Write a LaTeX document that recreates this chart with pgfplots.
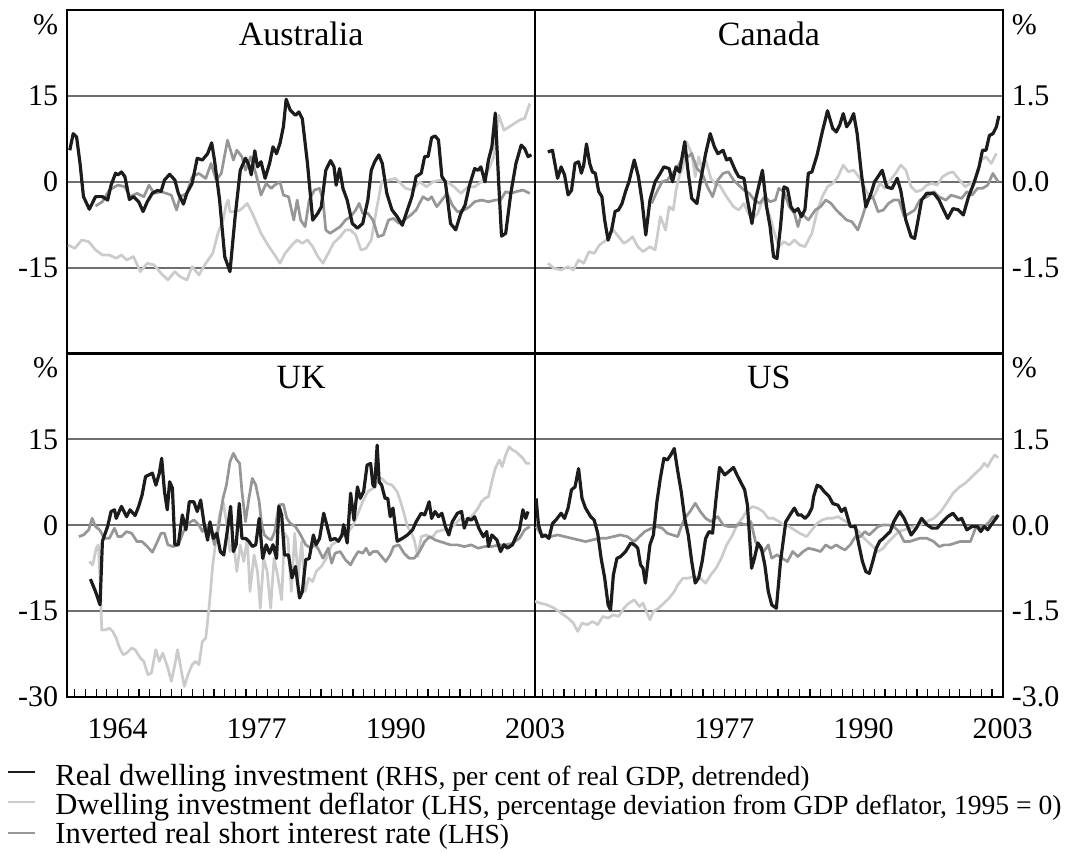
\documentclass[border=0pt]{standalone}
\usepackage{pgfplots}
\pgfplotsset{compat=1.18}
\usepackage{fontspec}
\setmainfont{Liberation Serif}
\definecolor{dk}{RGB}{28,28,28}
\definecolor{md}{RGB}{150,150,150}
\definecolor{lt}{RGB}{203,203,203}
\definecolor{gridc}{RGB}{110,110,110}
\newcommand{\tf}{\fontsize{15}{18}\selectfont}
\newcommand{\ttl}{\fontsize{17}{20}\selectfont}
\pgfplotsset{
  panel/.style={scale only axis, width=233.85pt, height=171.75pt,
    xmin=1959.3, xmax=2003, ymin=-30, ymax=30, clip mode=individual,
    axis line style={line width=1.2pt, black},
    ytick={-15,0,15}, ymajorgrids, grid style={line width=0.9pt, gridc},
    ytick style={draw=none}, tick pos=left,
    tick label style={font=\tf},
    yticklabel style={xshift=-1pt}},
  toppanel/.style={panel, xtick=\empty},
  botpanel/.style={panel, xtick={1960,...,2002}, xticklabels={},
    major tick length=4pt, xtick style={line width=0.6pt, black},
    xticklabel style={anchor=base, yshift=-20.5pt},
    extra x tick style={major tick length=0pt}},
  rightlab/.style={yticklabel pos=right, yticklabels={-1.5,0.0,1.5}, yticklabel style={xshift=2pt}},
  leftlab/.style={yticklabels={-15,0,15}},
  rhs/.style={scale only axis, width=233.85pt, height=171.75pt,
    xmin=1959.3, xmax=2003, ymin=-3, ymax=3, hide axis},
  ltl/.style={lt, line width=1.35pt, line join=round},
  mdl/.style={md, line width=1.35pt, line join=round},
  dkl/.style={dk, line width=1.6pt, line join=round},
}
\begin{document}
\begin{tikzpicture}[font=\tf]
\path[use as bounding box] (0,0) rectangle (537.5pt,-426.5pt);
% ---------------- Australia ----------------
\begin{axis}[toppanel, leftlab, at={(33.65pt,-5pt)}, anchor=north west]
\addplot[ltl] coordinates {(1959.36,-11.05)(1960.01,-11.63)(1960.65,-10.17)(1961.30,-10.47)(1961.94,-11.92)(1962.58,-12.79)(1963.23,-12.79)(1963.87,-13.37)(1964.36,-12.79)(1964.84,-13.66)(1965.48,-13.08)(1966.13,-15.70)(1966.77,-14.24)(1967.41,-14.53)(1968.06,-15.99)(1968.70,-17.15)(1969.35,-15.70)(1969.83,-16.57)(1970.47,-17.15)(1970.96,-14.83)(1971.60,-16.28)(1972.24,-14.24)(1972.89,-12.50)(1973.37,-9.01)(1973.85,-6.69)(1974.17,-3.78)(1974.34,-3.20)(1974.50,-5.23)(1974.98,-5.23)(1975.46,-4.94)(1976.11,-3.78)(1976.59,-5.52)(1977.40,-9.01)(1978.04,-11.05)(1978.68,-12.79)(1979.17,-14.24)(1979.65,-12.50)(1980.29,-11.05)(1980.78,-10.17)(1981.26,-10.76)(1981.74,-10.17)(1982.23,-11.34)(1982.71,-13.08)(1983.19,-14.24)(1983.68,-12.50)(1984.16,-10.76)(1984.80,-9.59)(1985.29,-8.43)(1985.77,-8.43)(1986.25,-9.30)(1986.74,-11.92)(1987.22,-11.63)(1987.70,-10.17)(1988.18,-4.94)(1988.67,0.00)(1989.31,0.29)(1989.95,0.58)(1990.44,-0.29)(1990.92,-1.16)(1991.56,-1.45)(1992.21,0.00)(1992.85,-0.87)(1993.50,0.00)(1994.14,0.29)(1994.78,0.00)(1995.43,-0.87)(1996.07,-2.03)(1996.72,-0.87)(1997.36,-0.87)(1998.00,0.00)(1998.65,2.03)(1999.13,4.36)(1999.61,11.63)(2000.10,9.01)(2000.58,9.59)(2001.06,10.17)(2001.54,10.76)(2002.03,11.05)(2002.51,13.66)};
\addplot[mdl] coordinates {(1961.94,-4.24)(1962.58,-3.49)(1963.23,-1.45)(1964.03,-0.58)(1964.68,-0.87)(1965.16,-2.62)(1965.81,-2.03)(1966.45,-2.62)(1966.93,-0.58)(1967.41,-2.03)(1968.06,-1.74)(1968.54,-2.03)(1969.02,-2.33)(1969.51,-4.94)(1969.83,-2.62)(1970.47,-2.03)(1970.96,0.87)(1971.60,1.45)(1972.24,0.58)(1972.73,3.20)(1973.21,0.29)(1973.69,1.45)(1974.27,7.27)(1974.82,3.78)(1975.14,5.52)(1975.62,4.36)(1975.95,2.03)(1976.43,4.36)(1976.91,1.45)(1977.40,-2.33)(1977.88,-0.29)(1978.36,-1.16)(1978.68,-0.58)(1979.17,0.00)(1979.49,-2.33)(1979.97,-2.62)(1980.46,-6.69)(1980.78,-3.20)(1981.10,-6.69)(1981.52,-7.85)(1981.90,-3.20)(1982.39,-1.45)(1982.87,-1.16)(1983.19,-3.20)(1983.45,-8.43)(1983.84,-9.01)(1984.32,-8.43)(1984.80,-7.85)(1985.29,-6.69)(1985.77,-6.10)(1986.25,-4.94)(1986.57,-3.78)(1986.90,-5.52)(1987.38,-5.52)(1987.86,-6.69)(1988.34,-9.59)(1988.83,-9.30)(1989.31,-6.69)(1989.79,-6.40)(1990.28,-7.27)(1990.76,-6.69)(1991.40,-5.81)(1991.89,-4.94)(1992.53,-2.62)(1993.01,-3.20)(1993.34,-2.62)(1993.82,-4.36)(1994.30,-3.20)(1994.78,-2.03)(1995.27,-4.07)(1995.75,-5.23)(1996.39,-4.94)(1996.88,-4.36)(1997.36,-3.49)(1998.00,-3.20)(1998.65,-3.49)(1999.29,-3.20)(1999.78,-3.20)(2000.26,-1.74)(2000.74,-2.03)(2001.22,-1.74)(2001.87,-1.45)(2002.51,-2.03)};
\node[anchor=east, xshift=-1pt, yshift=-7.25pt] at (rel axis cs:0,1) {\%};
\node[anchor=base, yshift=-17.5pt, font=\ttl] at (rel axis cs:0.5,1) {Australia};
\end{axis}
\begin{axis}[rhs, at={(33.65pt,-5pt)}, anchor=north west]
\addplot[dkl] coordinates {(1959.53,0.55)(1959.85,0.84)(1960.17,0.78)(1960.49,0.32)(1960.81,-0.26)(1961.36,-0.48)(1961.94,-0.26)(1962.58,-0.26)(1963.07,-0.32)(1963.39,-0.06)(1963.81,0.15)(1964.03,0.12)(1964.36,0.17)(1964.68,0.09)(1965.10,-0.31)(1965.48,-0.26)(1965.97,-0.35)(1966.38,-0.52)(1966.77,-0.35)(1967.25,-0.20)(1967.74,-0.15)(1968.06,-0.17)(1968.38,0.03)(1968.86,0.13)(1969.35,0.03)(1969.67,-0.20)(1970.15,-0.39)(1970.47,-0.20)(1970.96,-0.03)(1971.44,0.41)(1971.92,0.38)(1972.41,0.49)(1972.79,0.68)(1973.05,0.38)(1973.53,-0.32)(1974.01,-1.31)(1974.50,-1.57)(1974.98,-0.61)(1975.46,0.20)(1975.95,0.41)(1976.27,0.29)(1976.49,0.12)(1976.82,0.54)(1977.07,0.26)(1977.40,0.35)(1977.78,0.06)(1978.20,0.32)(1978.52,0.61)(1978.85,0.49)(1979.17,0.67)(1979.49,0.96)(1979.75,1.44)(1980.13,1.25)(1980.62,1.16)(1980.94,1.22)(1981.26,1.10)(1981.74,0.32)(1982.23,-0.67)(1982.71,-0.55)(1983.03,-0.44)(1983.45,0.20)(1983.90,0.37)(1984.22,0.26)(1984.42,-0.06)(1984.74,0.23)(1985.06,-0.12)(1985.45,-0.32)(1985.93,-0.73)(1986.41,-0.81)(1986.90,-0.73)(1987.38,-0.32)(1987.70,0.20)(1988.02,0.35)(1988.41,0.47)(1988.73,0.32)(1989.15,-0.20)(1989.63,-0.49)(1990.12,-0.61)(1990.60,-0.76)(1991.08,-0.49)(1991.50,-0.26)(1991.89,0.09)(1992.37,0.15)(1992.69,0.44)(1993.01,0.44)(1993.34,0.77)(1993.66,0.80)(1993.98,0.73)(1994.30,0.09)(1994.62,0.00)(1995.11,-0.73)(1995.59,-0.84)(1996.07,-0.55)(1996.46,-0.41)(1996.88,-0.06)(1997.36,0.23)(1997.68,0.20)(1997.94,0.26)(1998.33,0.00)(1998.65,0.38)(1998.97,0.61)(1999.29,1.20)(1999.61,-0.03)(1999.87,-0.95)(2000.26,-0.90)(2000.74,-0.20)(2001.22,0.32)(2001.71,0.64)(2002.03,0.58)(2002.35,0.44)(2002.67,0.47)};
\end{axis}
% ---------------- Canada ----------------
\begin{axis}[toppanel, rightlab, at={(267.5pt,-5pt)}, anchor=north west]
\addplot[ltl] coordinates {(1960.50,-14.24)(1961.09,-15.12)(1961.74,-15.41)(1962.39,-14.83)(1962.88,-15.41)(1963.37,-13.66)(1963.85,-14.24)(1964.34,-12.21)(1964.83,-12.50)(1965.32,-11.05)(1965.97,-10.17)(1966.62,-8.43)(1967.11,-9.59)(1967.60,-10.76)(1968.08,-10.17)(1968.41,-9.59)(1968.90,-11.34)(1969.39,-12.21)(1970.04,-11.34)(1970.52,-11.92)(1971.01,-6.10)(1971.50,-8.43)(1971.83,-4.36)(1972.22,-4.94)(1972.48,-1.45)(1972.80,1.16)(1973.13,2.62)(1973.45,6.98)(1973.94,4.94)(1974.27,0.87)(1974.59,4.36)(1974.92,2.03)(1975.24,3.78)(1975.73,0.58)(1976.22,-0.58)(1976.54,-0.58)(1977.20,-2.62)(1977.85,-4.36)(1978.33,-4.94)(1978.82,-3.78)(1979.31,-5.81)(1979.64,-6.40)(1980.12,-5.52)(1980.61,-2.91)(1981.26,-6.10)(1981.59,-8.43)(1982.08,-11.34)(1982.56,-10.47)(1983.05,-11.05)(1983.54,-10.17)(1984.03,-11.05)(1984.52,-11.34)(1985.17,-9.01)(1985.66,-5.23)(1986.14,-2.62)(1986.63,-0.87)(1987.12,-0.29)(1987.61,0.87)(1988.10,2.91)(1988.58,1.74)(1989.07,2.03)(1989.56,0.87)(1990.05,-0.87)(1990.54,-2.62)(1991.03,-2.33)(1991.51,-0.29)(1992.00,-1.16)(1992.49,0.29)(1992.98,1.45)(1993.47,2.91)(1993.95,2.03)(1994.44,-0.87)(1994.93,-1.74)(1995.42,-1.45)(1995.91,-0.58)(1996.39,-0.29)(1996.88,-0.58)(1997.37,0.87)(1997.86,1.45)(1998.35,1.74)(1998.84,0.58)(1999.49,-0.87)(1999.98,-0.29)(2000.46,0.29)(2000.95,3.78)(2001.44,4.36)(2001.93,3.20)(2002.41,4.94)};
\addplot[mdl] coordinates {(1970.20,-3.78)(1970.69,-1.74)(1971.18,0.00)(1971.66,0.29)(1972.15,1.45)(1972.64,2.62)(1973.13,4.36)(1973.62,4.36)(1973.94,4.94)(1974.43,2.33)(1974.92,1.45)(1975.41,-0.87)(1975.89,-2.62)(1976.38,0.29)(1976.87,1.45)(1977.36,1.74)(1977.85,0.29)(1978.33,-0.58)(1978.82,-1.45)(1979.31,-2.03)(1979.80,-3.20)(1980.29,-3.78)(1980.77,-2.62)(1981.26,-3.49)(1981.75,-3.20)(1982.08,-1.16)(1982.56,-1.74)(1983.05,-4.36)(1983.54,-5.52)(1983.87,-7.85)(1984.19,-5.52)(1984.84,-6.69)(1985.49,-4.94)(1985.98,-4.36)(1986.47,-3.20)(1986.96,-3.78)(1987.45,-4.94)(1987.93,-5.81)(1988.42,-6.69)(1988.91,-6.98)(1989.46,-8.43)(1989.89,-6.10)(1990.37,-3.20)(1990.86,-2.62)(1991.35,-5.23)(1991.84,-4.94)(1992.33,-3.78)(1992.81,-3.20)(1993.30,-3.20)(1993.79,-6.10)(1994.28,-5.52)(1994.77,-4.94)(1995.25,-3.20)(1995.91,-2.62)(1996.56,-1.74)(1997.05,-2.62)(1997.69,-3.20)(1998.18,-2.33)(1998.67,-2.62)(1999.16,-2.91)(1999.65,-1.74)(2000.14,-2.33)(2000.63,-1.16)(2001.11,-1.16)(2001.60,-0.58)(2002.08,1.45)(2002.57,0.00)};
\node[anchor=west, xshift=1pt, yshift=-7.25pt] at (rel axis cs:1,1) {\%};
\node[anchor=base, yshift=-17.5pt, font=\ttl] at (rel axis cs:0.5,1) {Canada};
\end{axis}
\begin{axis}[rhs, at={(267.5pt,-5pt)}, anchor=north west]
\addplot[dkl] coordinates {(1960.50,0.52)(1960.93,0.55)(1961.41,0.06)(1961.74,0.26)(1962.06,0.12)(1962.39,-0.23)(1962.71,-0.15)(1963.04,0.32)(1963.37,0.35)(1963.63,0.15)(1963.85,0.29)(1964.11,0.66)(1964.41,0.32)(1964.67,0.17)(1964.93,0.15)(1965.25,-0.17)(1965.55,-0.26)(1965.81,-0.67)(1966.13,-1.02)(1966.46,-0.84)(1966.78,-0.52)(1967.11,-0.49)(1967.43,-0.38)(1967.76,-0.17)(1968.08,0.00)(1968.57,0.38)(1968.96,0.09)(1969.29,-0.32)(1969.65,-0.93)(1970.04,-0.32)(1970.52,0.00)(1971.01,0.15)(1971.34,0.26)(1971.83,0.23)(1972.15,0.00)(1972.48,0.26)(1972.80,0.17)(1973.29,0.70)(1973.62,0.15)(1973.94,-0.29)(1974.43,-0.38)(1974.75,0.00)(1975.24,0.49)(1975.67,0.84)(1976.06,0.61)(1976.38,0.49)(1976.87,0.55)(1977.20,0.38)(1977.52,0.41)(1978.01,0.20)(1978.33,0.09)(1978.82,0.06)(1979.15,-0.32)(1979.57,-0.73)(1979.90,-0.32)(1980.55,0.20)(1980.94,-0.44)(1981.26,-0.78)(1981.59,-1.31)(1981.91,-1.34)(1982.24,-0.78)(1982.56,-0.09)(1982.89,-0.12)(1983.22,-0.44)(1983.54,-0.52)(1983.87,-0.47)(1984.19,-0.61)(1984.52,-0.49)(1984.84,0.15)(1985.17,0.17)(1985.66,0.47)(1986.14,0.87)(1986.63,1.24)(1987.12,0.93)(1987.45,0.87)(1987.77,0.99)(1988.10,1.19)(1988.42,0.96)(1988.75,1.05)(1989.07,1.19)(1989.40,0.84)(1989.79,0.15)(1990.21,-0.44)(1990.70,-0.20)(1991.03,0.00)(1991.35,0.09)(1991.74,0.20)(1992.16,-0.09)(1992.65,-0.12)(1993.14,0.06)(1993.47,-0.15)(1993.95,-0.67)(1994.44,-0.96)(1994.77,-0.99)(1995.09,-0.67)(1995.42,-0.32)(1995.91,-0.20)(1996.56,-0.20)(1997.05,-0.32)(1997.47,-0.49)(1997.86,-0.64)(1998.35,-0.47)(1998.84,-0.49)(1999.32,-0.58)(1999.81,-0.26)(2000.30,-0.03)(2000.79,0.26)(2001.11,0.55)(2001.44,0.55)(2001.76,0.81)(2002.09,0.84)(2002.41,0.96)(2002.64,1.15)};
\end{axis}
% ---------------- UK ----------------
\begin{axis}[botpanel, leftlab, at={(33.65pt,-176.75pt)}, anchor=north west,
  extra x ticks={1964,1977,1990,2003}, extra x tick labels={1964,1977,1990,2003}]
\addplot[ltl] coordinates {(1961.36,-6.34)(1961.68,-6.92)(1962.00,-4.01)(1962.20,-3.43)(1962.36,-9.24)(1962.52,-18.31)(1962.91,-18.26)(1963.23,-17.97)(1963.55,-18.55)(1963.87,-19.71)(1964.19,-21.45)(1964.52,-22.62)(1964.84,-22.33)(1965.32,-21.45)(1965.64,-21.74)(1966.13,-23.20)(1966.45,-23.78)(1966.83,-26.10)(1967.16,-25.81)(1967.57,-21.74)(1967.90,-23.78)(1968.22,-22.33)(1968.70,-24.94)(1969.02,-27.27)(1969.35,-24.36)(1969.60,-21.74)(1969.99,-25.81)(1970.24,-28.14)(1970.57,-26.10)(1970.96,-24.36)(1971.28,-23.78)(1971.60,-24.36)(1971.92,-20.29)(1972.24,-19.71)(1972.57,-13.90)(1972.89,-6.92)(1973.21,-2.27)(1973.53,1.80)(1973.85,4.13)(1974.17,0.64)(1974.50,-4.59)(1974.82,-2.85)(1975.14,-8.08)(1975.46,-3.43)(1975.79,-6.34)(1976.11,-2.27)(1976.37,-11.57)(1976.75,-5.17)(1977.07,-8.08)(1977.33,-14.48)(1977.65,-5.76)(1977.98,-8.08)(1978.30,-14.48)(1978.62,-5.76)(1978.94,-8.66)(1979.33,-13.02)(1979.59,-1.40)(1979.91,-2.27)(1980.23,-11.57)(1980.55,-1.40)(1980.87,-9.24)(1981.20,-2.85)(1981.52,-11.57)(1981.84,-9.24)(1982.23,-9.83)(1982.55,-8.08)(1983.03,-7.21)(1983.51,-5.76)(1984.00,-3.43)(1984.48,-2.85)(1984.96,-1.98)(1985.45,-1.40)(1985.93,-0.23)(1986.41,1.80)(1986.90,4.13)(1987.38,5.87)(1987.86,6.45)(1988.34,7.62)(1988.67,8.20)(1989.15,7.33)(1989.63,7.03)(1990.12,5.87)(1990.44,4.13)(1990.76,2.09)(1991.08,-0.23)(1991.40,-1.10)(1991.72,-2.56)(1992.05,-5.47)(1992.37,-1.98)(1992.85,-1.69)(1993.34,-2.27)(1993.82,-1.10)(1994.46,-0.81)(1994.95,-0.81)(1995.43,0.06)(1996.07,1.22)(1996.72,0.93)(1997.20,1.80)(1997.68,2.97)(1998.00,4.13)(1998.33,4.71)(1998.65,5.00)(1998.97,7.62)(1999.29,9.94)(1999.67,11.40)(1999.93,10.23)(2000.26,12.27)(2000.58,13.72)(2000.90,13.14)(2001.22,12.85)(2001.54,12.27)(2001.87,11.69)(2002.19,10.81)(2002.51,10.81)};
\addplot[mdl] coordinates {(1960.39,-1.98)(1960.81,-1.69)(1961.30,-0.81)(1961.62,1.22)(1961.94,-0.23)(1962.33,-0.81)(1962.75,-2.27)(1963.23,-2.27)(1963.71,-0.52)(1964.03,-1.98)(1964.36,-1.98)(1964.84,-1.10)(1965.32,-1.40)(1965.81,-2.85)(1966.29,-2.85)(1966.77,-3.72)(1967.25,-4.71)(1967.58,-3.43)(1968.06,-1.40)(1968.38,-1.40)(1968.70,-3.43)(1969.19,-3.72)(1969.67,-3.43)(1970.15,-1.10)(1970.63,0.35)(1971.12,0.93)(1971.60,0.06)(1971.92,-1.10)(1972.24,0.06)(1972.73,-1.10)(1973.05,-3.43)(1973.37,-1.10)(1973.85,4.71)(1974.17,7.03)(1974.50,11.10)(1974.82,12.56)(1975.14,11.40)(1975.40,10.81)(1975.62,5.87)(1975.95,0.64)(1976.27,4.71)(1976.59,8.20)(1976.91,7.03)(1977.23,4.13)(1977.46,0.06)(1977.72,-1.69)(1978.04,-2.27)(1978.36,-2.56)(1978.68,-1.10)(1979.07,3.55)(1979.49,3.66)(1979.81,1.22)(1980.13,0.35)(1980.62,-0.23)(1981.10,-1.69)(1981.58,-3.43)(1982.07,-4.01)(1982.39,-3.43)(1982.71,-4.01)(1983.19,-5.76)(1983.68,-4.01)(1984.00,-6.63)(1984.32,-4.88)(1984.80,-4.59)(1985.29,-6.05)(1985.77,-6.92)(1986.09,-5.76)(1986.48,-4.59)(1986.90,-4.88)(1987.22,-4.01)(1987.54,-5.17)(1987.86,-4.59)(1988.28,-4.59)(1988.67,-5.47)(1989.05,-6.34)(1989.47,-5.17)(1989.79,-3.72)(1990.28,-3.43)(1990.76,-4.88)(1991.24,-5.76)(1991.72,-5.76)(1992.21,-4.59)(1992.69,-2.85)(1993.17,-1.98)(1993.66,-2.56)(1994.14,-2.85)(1994.62,-3.14)(1995.11,-3.43)(1995.75,-3.43)(1996.39,-3.72)(1997.04,-3.43)(1997.68,-4.01)(1998.33,-3.72)(1998.97,-3.72)(1999.61,-3.43)(2000.26,-3.43)(2000.90,-3.14)(2001.55,-2.27)(2002.03,-0.81)(2002.51,-0.23)};
\node[anchor=east, xshift=-1pt, yshift=-7.25pt] at (rel axis cs:0,1) {\%};
\node[anchor=east, xshift=-1pt] at (rel axis cs:0,0) {-30};
\node[anchor=base, yshift=-17.5pt, font=\ttl] at (rel axis cs:0.5,1) {UK};
\end{axis}
\begin{axis}[rhs, at={(33.65pt,-176.75pt)}, anchor=north west]
\addplot[dkl] coordinates {(1961.46,-0.94)(1961.94,-1.16)(1962.36,-1.39)(1962.58,-0.28)(1963.07,-0.02)(1963.39,0.24)(1963.71,0.27)(1963.87,0.12)(1964.36,0.33)(1964.84,0.15)(1965.16,0.27)(1965.64,0.17)(1965.97,0.33)(1966.29,0.53)(1966.61,0.85)(1966.93,0.88)(1967.25,0.91)(1967.58,0.70)(1967.90,0.91)(1968.12,1.17)(1968.38,0.59)(1968.64,0.27)(1968.86,0.76)(1969.12,0.65)(1969.35,-0.34)(1969.67,-0.34)(1970.05,0.18)(1970.38,-0.08)(1970.70,0.41)(1971.12,0.41)(1971.44,0.24)(1971.76,0.44)(1972.08,0.03)(1972.41,-0.26)(1972.63,0.06)(1972.95,-0.23)(1973.27,-0.14)(1973.60,-0.46)(1973.92,-0.52)(1974.24,-0.11)(1974.56,0.33)(1974.82,-0.46)(1975.08,-0.34)(1975.37,0.38)(1975.62,-0.23)(1975.95,-0.23)(1976.27,-0.28)(1976.59,-0.37)(1976.91,-0.34)(1977.23,0.12)(1977.56,-0.58)(1977.88,-0.34)(1978.20,-0.49)(1978.52,-0.34)(1978.85,-0.58)(1979.07,0.33)(1979.33,0.18)(1979.59,-0.52)(1979.97,-0.52)(1980.29,-0.92)(1980.62,-0.72)(1981.00,-1.27)(1981.26,-1.16)(1981.58,-0.60)(1981.90,-0.58)(1982.29,-0.17)(1982.55,-0.34)(1982.87,-0.23)(1983.26,0.21)(1983.58,-0.02)(1983.90,-0.26)(1984.32,-0.23)(1984.64,-0.28)(1984.96,-0.17)(1985.12,0.01)(1985.45,-0.31)(1985.77,0.56)(1986.09,0.09)(1986.41,0.67)(1986.67,0.47)(1986.99,0.59)(1987.31,1.05)(1987.64,1.08)(1987.86,0.70)(1988.02,0.67)(1988.25,1.40)(1988.44,0.76)(1988.67,0.70)(1988.99,0.47)(1989.24,0.47)(1989.47,0.15)(1989.73,0.30)(1990.12,-0.28)(1990.60,-0.23)(1991.08,-0.17)(1991.56,-0.08)(1991.89,0.06)(1992.37,0.21)(1992.69,0.18)(1993.11,0.41)(1993.34,0.12)(1993.66,0.24)(1993.98,0.15)(1994.30,0.21)(1994.62,-0.02)(1994.95,-0.17)(1995.27,0.06)(1995.75,0.21)(1996.14,0.24)(1996.39,-0.05)(1996.72,0.12)(1997.04,0.09)(1997.36,0.15)(1997.75,-0.05)(1998.17,-0.20)(1998.49,-0.11)(1998.65,-0.37)(1998.97,-0.17)(1999.45,-0.26)(1999.78,-0.46)(2000.10,-0.34)(2000.42,-0.40)(2000.90,-0.34)(2001.22,-0.20)(2001.55,-0.08)(2001.87,0.27)(2002.13,0.12)(2002.35,0.24)};
\end{axis}
% ---------------- US ----------------
\begin{axis}[botpanel, rightlab, at={(267.5pt,-176.75pt)}, anchor=north west,
  extra x ticks={1977,1990,2003}, extra x tick labels={1977,1990,2003}]
\addplot[ltl] coordinates {(1959.30,-13.31)(1959.79,-13.60)(1960.44,-13.90)(1961.09,-14.48)(1961.74,-15.35)(1962.39,-16.22)(1962.88,-17.09)(1963.30,-18.55)(1963.69,-17.09)(1964.18,-17.38)(1964.67,-16.80)(1965.16,-17.38)(1965.64,-15.93)(1966.13,-16.22)(1966.62,-15.64)(1967.11,-15.93)(1967.60,-14.48)(1968.08,-13.60)(1968.57,-13.02)(1969.06,-14.19)(1969.39,-13.60)(1969.71,-15.06)(1970.04,-16.51)(1970.36,-15.06)(1970.85,-14.48)(1971.34,-13.60)(1971.83,-12.73)(1972.31,-11.57)(1972.64,-10.41)(1973.13,-9.24)(1973.62,-9.24)(1974.10,-8.95)(1974.75,-9.24)(1975.24,-10.12)(1975.73,-8.66)(1976.22,-7.50)(1976.71,-5.76)(1977.20,-3.43)(1977.68,-1.98)(1978.17,0.06)(1978.66,1.22)(1979.15,2.67)(1979.64,3.26)(1980.12,2.97)(1980.61,2.38)(1981.10,1.22)(1981.59,1.22)(1982.08,0.64)(1982.56,0.06)(1983.05,-0.23)(1983.54,-0.81)(1984.03,-1.40)(1984.68,-1.98)(1985.17,-0.81)(1985.66,0.35)(1986.14,0.93)(1986.63,1.22)(1987.12,1.22)(1987.61,1.51)(1988.10,0.93)(1988.58,0.35)(1989.07,-0.23)(1989.56,-1.10)(1990.05,-2.27)(1990.54,-3.14)(1991.03,-4.01)(1991.35,-4.59)(1991.84,-4.01)(1992.33,-2.85)(1992.81,-1.98)(1993.30,-1.10)(1993.79,-0.81)(1994.28,-0.52)(1994.77,-0.23)(1995.25,0.06)(1995.91,0.64)(1996.56,1.22)(1997.21,2.38)(1997.86,4.13)(1998.35,5.58)(1999.00,6.74)(1999.49,7.33)(1999.98,8.20)(2000.46,9.07)(2000.95,9.94)(2001.28,10.81)(2001.60,10.23)(2001.93,11.40)(2002.25,12.27)(2002.58,11.80)};
\addplot[mdl] coordinates {(1959.40,-0.23)(1959.79,-1.40)(1960.27,-1.98)(1960.76,-1.98)(1961.41,-1.69)(1962.06,-1.98)(1962.71,-2.27)(1963.37,-2.56)(1964.02,-2.85)(1964.67,-2.56)(1965.32,-2.27)(1965.97,-2.27)(1966.62,-1.98)(1967.27,-1.69)(1967.92,-1.98)(1968.57,-2.85)(1969.06,-1.98)(1969.55,-1.10)(1970.20,-0.52)(1970.69,-0.23)(1971.18,-0.52)(1971.66,-1.40)(1972.15,-1.69)(1972.64,-1.98)(1972.96,-0.23)(1973.29,1.22)(1973.78,2.38)(1974.27,3.84)(1974.75,2.38)(1975.24,1.22)(1975.73,0.64)(1976.38,1.51)(1976.87,0.06)(1977.36,-0.23)(1978.01,-0.23)(1978.50,0.35)(1978.98,0.06)(1979.47,0.64)(1979.90,-2.85)(1980.29,-4.01)(1980.68,-4.59)(1981.10,-3.43)(1981.42,-5.76)(1981.91,-5.17)(1982.40,-5.76)(1982.89,-6.34)(1983.38,-4.59)(1983.87,-5.47)(1984.35,-4.59)(1984.84,-4.01)(1985.49,-4.30)(1985.98,-4.59)(1986.47,-3.43)(1986.96,-4.01)(1987.45,-3.43)(1987.93,-4.01)(1988.26,-4.30)(1988.75,-3.43)(1989.23,-1.98)(1989.72,-1.98)(1990.11,-1.10)(1990.54,-1.69)(1990.86,-1.10)(1991.35,-0.23)(1991.84,0.06)(1992.33,0.06)(1992.81,-0.23)(1993.30,-1.10)(1993.79,-2.85)(1994.28,-2.85)(1994.77,-2.56)(1995.25,-2.27)(1995.91,-2.27)(1996.56,-2.85)(1997.05,-3.72)(1997.54,-3.43)(1998.02,-3.43)(1998.51,-3.14)(1999.00,-2.85)(1999.49,-2.85)(1999.98,-2.85)(2000.46,-0.52)(2000.95,-0.23)(2001.44,0.06)(2001.76,0.64)(2002.09,1.51)(2002.58,1.22)};
\node[anchor=west, xshift=1pt, yshift=-7.25pt] at (rel axis cs:1,1) {\%};
\node[anchor=west, xshift=1pt] at (rel axis cs:1,0) {-3.0};
\node[anchor=base, yshift=-17.5pt, font=\ttl] at (rel axis cs:0.5,1) {US};
\end{axis}
\begin{axis}[rhs, at={(267.5pt,-176.75pt)}, anchor=north west]
\addplot[dkl] coordinates {(1959.40,0.47)(1959.62,0.01)(1959.95,-0.20)(1960.27,-0.17)(1960.60,-0.23)(1960.93,0.03)(1961.25,0.09)(1961.74,0.21)(1962.06,0.12)(1962.39,0.30)(1962.71,0.62)(1963.04,0.67)(1963.37,0.99)(1963.69,0.47)(1964.02,0.30)(1964.50,0.15)(1964.83,0.09)(1965.16,-0.14)(1965.48,-0.58)(1965.81,-0.92)(1966.13,-1.39)(1966.36,-1.48)(1966.62,-0.87)(1966.95,-0.58)(1967.27,-0.55)(1967.76,-0.46)(1968.25,-0.31)(1968.57,-0.34)(1968.90,-0.40)(1969.16,-0.69)(1969.39,-0.75)(1969.61,-1.01)(1970.04,-0.34)(1970.36,-0.17)(1970.69,0.41)(1971.01,0.82)(1971.34,1.17)(1971.66,1.14)(1971.99,1.23)(1972.31,1.34)(1972.64,0.94)(1972.96,0.59)(1973.29,0.12)(1973.62,-0.17)(1973.94,-0.63)(1974.27,-1.01)(1974.59,-0.92)(1974.92,-0.63)(1975.24,-0.23)(1975.57,-0.11)(1975.89,-0.14)(1976.22,0.47)(1976.54,1.01)(1977.03,0.88)(1977.42,0.94)(1977.85,1.01)(1978.17,0.88)(1978.50,0.76)(1978.89,0.62)(1979.15,0.35)(1979.54,-0.75)(1979.80,-0.58)(1980.12,-0.31)(1980.45,-0.40)(1980.77,-0.69)(1981.10,-1.16)(1981.42,-1.39)(1981.85,-1.45)(1982.24,-0.63)(1982.73,0.06)(1983.22,0.21)(1983.54,0.30)(1983.87,0.18)(1984.19,0.18)(1984.52,0.12)(1984.84,0.18)(1985.17,0.30)(1985.33,0.50)(1985.66,0.70)(1985.98,0.67)(1986.31,0.59)(1986.79,0.50)(1987.12,0.38)(1987.61,0.35)(1987.93,0.24)(1988.26,0.30)(1988.75,-0.02)(1989.23,-0.02)(1989.56,-0.34)(1989.89,-0.63)(1990.21,-0.81)(1990.54,-0.84)(1990.86,-0.63)(1991.19,-0.40)(1991.51,-0.28)(1991.84,-0.23)(1992.16,-0.17)(1992.49,-0.11)(1992.81,0.06)(1993.37,0.24)(1993.79,0.12)(1994.12,-0.02)(1994.44,-0.17)(1994.93,-0.05)(1995.42,0.12)(1995.91,0.01)(1996.39,-0.05)(1996.88,-0.05)(1997.37,0.06)(1997.86,0.15)(1998.35,0.21)(1998.84,0.09)(1999.16,0.12)(1999.65,-0.08)(2000.14,-0.02)(2000.63,-0.02)(2000.95,-0.11)(2001.28,-0.02)(2001.60,-0.08)(2001.93,0.01)(2002.25,0.09)(2002.58,0.18)};
\end{axis}
% ---------------- legend ----------------
\draw[dk, line width=1pt] (4pt,-385.85pt) -- (17.5pt,-385.85pt);
\draw[lt, line width=1pt] (4pt,-400.85pt) -- (17.5pt,-400.85pt);
\draw[md, line width=1pt] (4pt,-416.35pt) -- (17.5pt,-416.35pt);
\node[anchor=base west, inner sep=0pt, font=\fontsize{15.3}{18}\selectfont] at (27.5pt,-392.5pt) {Real dwelling investment {\fontsize{13.8}{16}\selectfont(RHS, per cent of real GDP, detrended)}};
\node[anchor=base west, inner sep=0pt, font=\fontsize{15.3}{18}\selectfont] at (27.5pt,-407pt) {Dwelling investment deflator {\fontsize{13.8}{16}\selectfont(LHS, percentage deviation from GDP deflator, 1995 = 0)}};
\node[anchor=base west, inner sep=0pt, font=\fontsize{15.3}{18}\selectfont] at (27.5pt,-421.5pt) {Inverted real short interest rate {\fontsize{13.8}{16}\selectfont(LHS)}};
\end{tikzpicture}
\end{document}
